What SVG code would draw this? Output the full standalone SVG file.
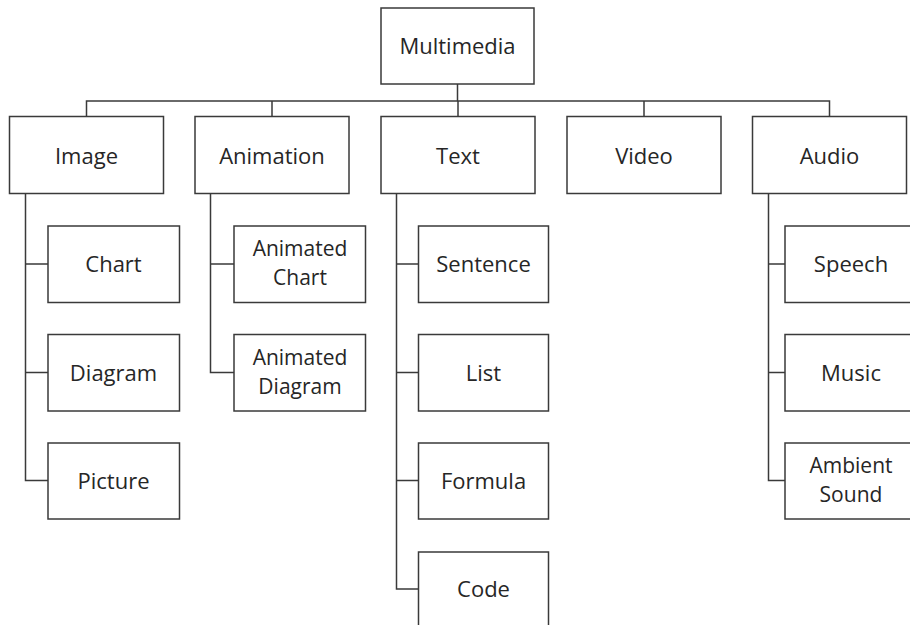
<svg xmlns="http://www.w3.org/2000/svg" width="910" height="625" viewBox="0 0 910 625">
<style>
.box{fill:#fff;stroke:#3a3a3a;stroke-width:1.5}
.lbl{font-family:"Open Sans","Liberation Sans",sans-serif;font-size:22px;fill:#262626;text-anchor:middle}
.lbl2{font-size:21px}
.con{fill:none;stroke:#3a3a3a;stroke-width:1.5}
</style>
<rect width="910" height="625" fill="#fff"/>
<g id="connectors">
<path class="con" d="M457.5 84V101M86.5 116.5V101H829.5V116.5M272 101V116.5M458 101V116.5M644 101V116.5"/>
<path class="con" d="M25.5 193.5V480.5H48M25.5 264H48M25.5 372.5H48"/>
<path class="con" d="M210.5 193.5V372.5H234M210.5 264H234"/>
<path class="con" d="M396.5 193.5V589H418.5M396.5 264H418.5M396.5 372.5H418.5M396.5 480.5H418.5"/>
<path class="con" d="M768.5 193.5V480.5H785M768.5 264H785M768.5 372.5H785"/>
</g>
<g id="n-multimedia"><rect class="box" x="381" y="8" width="153" height="76"/><text class="lbl" x="457.5" y="53.5">Multimedia</text></g>
<g id="n-image"><rect class="box" x="9.5" y="116.5" width="154" height="77"/><text class="lbl" x="86.5" y="163.5">Image</text></g>
<g id="n-animation"><rect class="box" x="195" y="116.5" width="154" height="77"/><text class="lbl" x="272" y="163.5">Animation</text></g>
<g id="n-text"><rect class="box" x="381" y="116.5" width="154" height="77"/><text class="lbl" x="458" y="163.5">Text</text></g>
<g id="n-video"><rect class="box" x="567" y="116.5" width="154" height="77"/><text class="lbl" x="644" y="163.5">Video</text></g>
<g id="n-audio"><rect class="box" x="752.5" y="116.5" width="154" height="77"/><text class="lbl" x="829.5" y="163.5">Audio</text></g>
<g id="n-chart"><rect class="box" x="48" y="226" width="131.5" height="76.5"/><text class="lbl" x="113.5" y="271.5">Chart</text></g>
<g id="n-diagram"><rect class="box" x="48" y="334.5" width="131.5" height="76.5"/><text class="lbl" x="113.5" y="380.5">Diagram</text></g>
<g id="n-picture"><rect class="box" x="48" y="443" width="131.5" height="76"/><text class="lbl" x="113.5" y="488.5">Picture</text></g>
<g id="n-animated-chart"><rect class="box" x="234" y="226" width="131.5" height="76.5"/><text class="lbl lbl2" x="300" y="256"><tspan x="300">Animated</tspan><tspan x="300" dy="29">Chart</tspan></text></g>
<g id="n-animated-diagram"><rect class="box" x="234" y="334.5" width="131.5" height="76.5"/><text class="lbl lbl2" x="300" y="365"><tspan x="300">Animated</tspan><tspan x="300" dy="29">Diagram</tspan></text></g>
<g id="n-sentence"><rect class="box" x="418.5" y="226" width="130" height="76.5"/><text class="lbl" x="483.5" y="271.5">Sentence</text></g>
<g id="n-list"><rect class="box" x="418.5" y="334.5" width="130" height="76.5"/><text class="lbl" x="483.5" y="380.5">List</text></g>
<g id="n-formula"><rect class="box" x="418.5" y="443" width="130" height="76"/><text class="lbl" x="483.5" y="488.5">Formula</text></g>
<g id="n-code"><rect class="box" x="418.5" y="552" width="130" height="77"/><text class="lbl" x="483.5" y="596.5">Code</text></g>
<g id="n-speech"><rect class="box" x="785" y="226" width="131.5" height="76.5"/><text class="lbl" x="851" y="271.5">Speech</text></g>
<g id="n-music"><rect class="box" x="785" y="334.5" width="131.5" height="76.5"/><text class="lbl" x="851" y="380.5">Music</text></g>
<g id="n-ambient-sound"><rect class="box" x="785" y="443" width="131.5" height="76"/><text class="lbl lbl2" x="851" y="473"><tspan x="851">Ambient</tspan><tspan x="851" dy="29">Sound</tspan></text></g>
</svg>
